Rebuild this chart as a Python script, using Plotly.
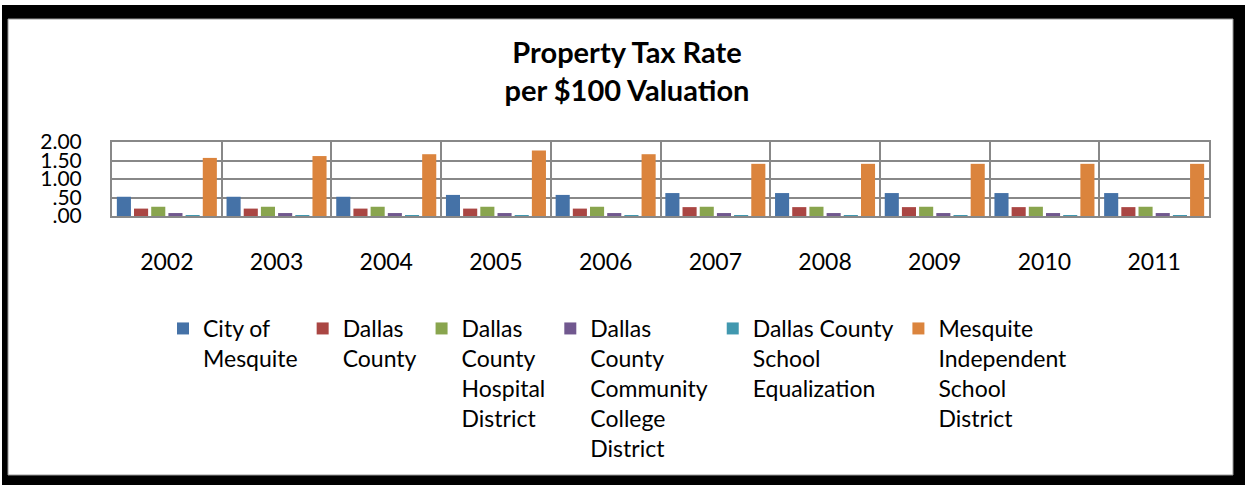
import plotly.graph_objects as go

W, H = 1245, 485
ML, MR, MT, MB = 112, 36, 142, 269
PW, PH = W - ML - MR, H - MT - MB

years = ["2002", "2003", "2004", "2005", "2006", "2007", "2008", "2009", "2010", "2011"]
city_of_mesquite = [0.52, 0.52, 0.52, 0.57, 0.57, 0.62, 0.62, 0.62, 0.62, 0.62]
dallas_county = [0.20, 0.20, 0.20, 0.20, 0.20, 0.24, 0.24, 0.24, 0.24, 0.24]
hospital_district = [0.25, 0.25, 0.25, 0.25, 0.25, 0.25, 0.25, 0.25, 0.25, 0.25]
college_district = [0.08, 0.08, 0.08, 0.08, 0.08, 0.08, 0.08, 0.08, 0.08, 0.08]
school_equalization = [0.005, 0.005, 0.005, 0.005, 0.005, 0.005, 0.005, 0.005, 0.005, 0.005]
mesquite_isd = [1.57, 1.62, 1.67, 1.77, 1.67, 1.41, 1.41, 1.41, 1.41, 1.41]

series_names = [
    "City of<br>Mesquite",
    "Dallas<br>County",
    "Dallas<br>County<br>Hospital<br>District",
    "Dallas<br>County<br>Community<br>College<br>District",
    "Dallas County<br>School<br>Equalization",
    "Mesquite<br>Independent<br>School<br>District",
]
series_values = [city_of_mesquite, dallas_county, hospital_district,
                 college_district, school_equalization, mesquite_isd]
colors = ["#4572A7", "#AA4643", "#89A54E", "#71588F", "#4198AF", "#DB843D"]

y_tickvals = [0, 0.5, 1.0, 1.5, 2.0]
y_ticktext = [".00", ".50", "1.00", "1.50", "2.00"]

FONT = "Lato, Carlito, Calibri, sans-serif"

fig = go.Figure()
for name, vals, col in zip(series_names, series_values, colors):
    fig.add_trace(go.Bar(x=years, y=vals, name=name, marker=dict(color=col, line=dict(width=0))))


def px_x(p):
    return (p - ML) / PW


def px_y(p):
    return (MT + PH - p) / PH


shapes = [
    dict(type="rect", xref="paper", yref="paper", layer="below",
         x0=px_x(2), x1=px_x(1250), y0=px_y(490), y1=px_y(5),
         fillcolor="black", line=dict(width=0)),
    dict(type="rect", xref="paper", yref="paper", layer="below",
         x0=px_x(8), x1=px_x(1233), y0=px_y(475), y1=px_y(19),
         fillcolor="white", line=dict(color="#999999", width=1)),
]

fig.update_layout(
    width=W, height=H,
    margin=dict(l=ML, r=MR, t=MT, b=MB, pad=0),
    paper_bgcolor="white", plot_bgcolor="rgba(0,0,0,0)",
    font=dict(family=FONT, size=21, color="black"),
    title=dict(text="<b>Property Tax Rate<br>per $100 Valuation</b>",
               x=627 / W, xref="container", xanchor="center",
               y=1 - 63 / H, yanchor="top",
               font=dict(family=FONT, size=29, color="black")),
    barmode="group", bargap=0.06, bargroupgap=0.18,
    showlegend=True,
    legend=dict(orientation="h", x=px_x(163), xanchor="left",
                y=px_y(307), yanchor="top", valign="top",
                font=dict(family=FONT, size=23, color="black"),
                bgcolor="rgba(0,0,0,0)", traceorder="normal"),
    shapes=shapes,
    xaxis=dict(showgrid=True, gridcolor="#888888", gridwidth=2, tickson="boundaries",
               ticks="", showline=True, linecolor="#888888", linewidth=2, mirror=True,
               tickfont=dict(size=23), ticklabelstandoff=24, fixedrange=True),
    yaxis=dict(range=[0, 2.0], tickvals=y_tickvals, ticktext=y_ticktext,
               showgrid=True, gridcolor="#888888", gridwidth=1.5,
               showline=True, linecolor="#888888", linewidth=2, mirror=True,
               zeroline=False, ticks="", ticklabelstandoff=24,
               tickfont=dict(size=21), fixedrange=True),
)

fig.write_html("out.html", config={"displayModeBar": False},
               post_script="document.body.style.margin='0';")
